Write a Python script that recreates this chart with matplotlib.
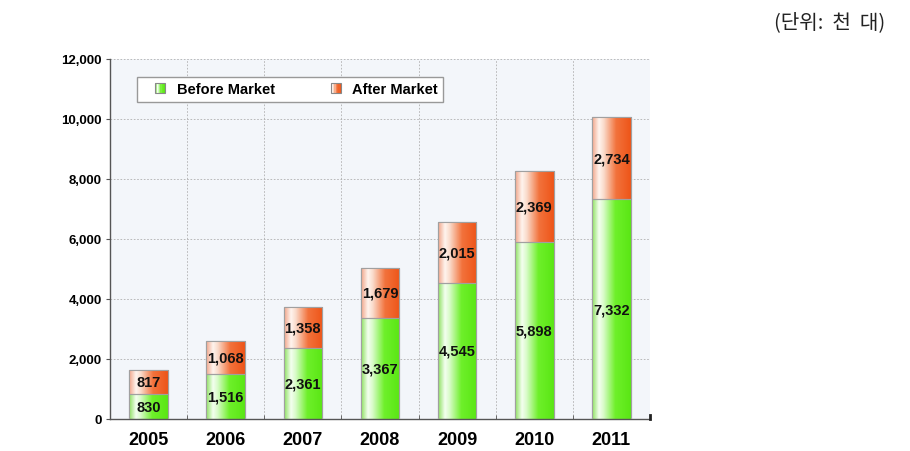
import matplotlib
matplotlib.use("Agg")
import matplotlib.pyplot as plt
import numpy as np
from matplotlib.colors import LinearSegmentedColormap
from matplotlib.patches import Rectangle
from matplotlib.legend_handler import HandlerBase

years = ["2005", "2006", "2007", "2008", "2009", "2010", "2011"]
before_market = [830, 1516, 2361, 3367, 4545, 5898, 7332]
after_market = [817, 1068, 1358, 1679, 2015, 2369, 2734]
series_names = ["Before Market", "After Market"]
y_ticks = [0, 2000, 4000, 6000, 8000, 10000, 12000]
unit_text = "(단위:  천  대)"

green_cmap = LinearSegmentedColormap.from_list(
    "g", [(0.0, "#8ce05e"), (0.18, "#f4fff0"), (0.3, "#d8fbc8"),
          (0.6, "#6ef02a"), (1.0, "#5ae614")])
orange_cmap = LinearSegmentedColormap.from_list(
    "o", [(0.0, "#f0a488"), (0.18, "#fff4ee"), (0.3, "#fadccc"),
          (0.62, "#f2723c"), (1.0, "#ee5518")])

fig = plt.figure(figsize=(9.1, 4.52), dpi=100)
ax = fig.add_axes([110/910, 1-420/452, 540/910, 360/452])
ax.set_facecolor("#f3f6fa")

x = np.arange(len(years))
width = 0.5
grad = np.linspace(0, 1, 256).reshape(1, -1)

def gradient_bars(bars, cmap):
    for b in bars:
        bx, by = b.get_x(), b.get_y()
        bw, bh = b.get_width(), b.get_height()
        im = ax.imshow(grad, cmap=cmap, aspect="auto",
                       extent=(bx, bx + bw, by, by + bh), zorder=2.5,
                       interpolation="bilinear")
        im.set_clip_path(b)

b1 = ax.bar(x, before_market, width, color="#66ee22", edgecolor="#9a9a9a",
            linewidth=0.8, zorder=2)
b2 = ax.bar(x, after_market, width, bottom=before_market, color="#f06a30",
            edgecolor="#9a9a9a", linewidth=0.8, zorder=2)
gradient_bars(b1, green_cmap)
gradient_bars(b2, orange_cmap)
for b in list(b1) + list(b2):
    ax.add_patch(Rectangle((b.get_x(), b.get_y()), b.get_width(), b.get_height(),
                           fill=False, edgecolor="#a0a0a0", linewidth=0.8, zorder=3))

for i in range(len(years)):
    ax.text(x[i], before_market[i] / 2, f"{before_market[i]:,}", ha="center",
            va="center", fontsize=10.5, fontweight="bold", color="#111111",
            family="Liberation Sans", zorder=4)
    ax.text(x[i], before_market[i] + after_market[i] / 2, f"{after_market[i]:,}",
            ha="center", va="center", fontsize=10.5, fontweight="bold",
            color="#111111", family="Liberation Sans", zorder=4)

ax.set_xlim(-0.5, len(years) - 0.5)
ax.set_ylim(0, 12000)
ax.set_yticks(y_ticks)
ax.set_yticklabels([f"{v:,}" for v in y_ticks], fontsize=9.5, fontweight="bold",
                   family="Liberation Sans")
ax.set_xticks(x)
ax.set_xticklabels(years, fontsize=13, fontweight="bold", family="Liberation Sans")
ax.tick_params(axis="x", length=0, pad=9)
ax.tick_params(axis="y", length=3, direction="out", color="#555555", pad=3)
ax.set_xticks(np.arange(0.5, len(years) - 0.5, 1), minor=True)
ax.tick_params(axis="x", which="minor", length=3, direction="in", color="#555555")

grid_kw = dict(color="#b0b0b0", linestyle=(0, (2, 2)), linewidth=0.6, zorder=1)
for yv in y_ticks[1:]:
    ax.axhline(yv, **grid_kw)
for xv in np.arange(0.5, len(years), 1):
    ax.axvline(xv, **grid_kw)

for s in ["top", "right"]:
    ax.spines[s].set_visible(False)
for s in ["left", "bottom"]:
    ax.spines[s].set_color("#555555")
    ax.spines[s].set_linewidth(1.0)
ax.plot([len(years) - 0.5, len(years) - 0.5], [0, 120], color="#222222",
        linewidth=2, clip_on=False, zorder=5)


class GradHandler(HandlerBase):
    def __init__(self, cmap):
        super().__init__()
        self.cmap = cmap

    def create_artists(self, legend, orig_handle, xdescent, ydescent, width,
                       height, fontsize, trans):
        arts = []
        s = height * 1.0
        x0 = width - s - xdescent
        y0 = -ydescent
        n = 8
        for k in range(n):
            r = Rectangle((x0 + k * s / n, y0), s / n, s,
                          facecolor=self.cmap((k + 0.5) / n), edgecolor="none",
                          transform=trans)
            arts.append(r)
        arts.append(Rectangle((x0, y0), s, s, fill=False, edgecolor="#888888",
                              linewidth=0.8, transform=trans))
        return arts


h1 = Rectangle((0, 0), 1, 1)
h2 = Rectangle((0, 0), 1, 1)
leg = ax.legend([h1, h2], series_names, ncol=2, loc="center left",
                bbox_to_anchor=(0.05, 0.878, 0.567, 0.075), mode="expand",
                handler_map={h1: GradHandler(green_cmap), h2: GradHandler(orange_cmap)},
                prop={"family": "Liberation Sans", "weight": "bold", "size": 10.5},
                fancybox=False, framealpha=1, edgecolor="#999999",
                borderaxespad=0, handlelength=1.6, handletextpad=0.8,
                borderpad=0.35)
leg.get_frame().set_linewidth(1.0)
leg.set_zorder(6)

fig.text(0.973, 0.951, unit_text, ha="right", va="center", fontsize=14.5,
         family=["Noto Sans CJK KR", "DejaVu Sans"], color="#222222")

fig.savefig("out.png", dpi=100)
